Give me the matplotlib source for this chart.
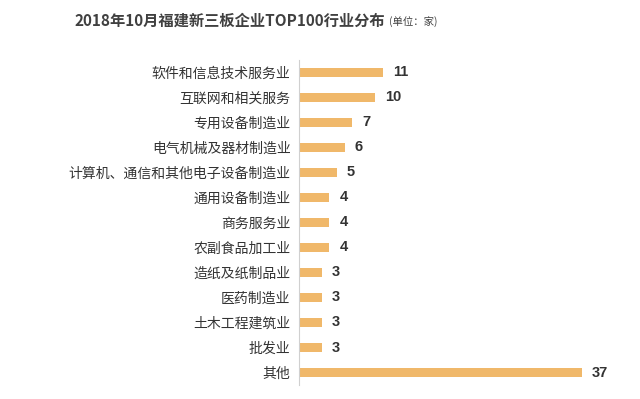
import matplotlib.pyplot as plt
import numpy as np

plt.rcParams['font.family'] = ['Noto Sans CJK SC', 'DejaVu Sans']

# Data
industries = ["软件和信息技术服务业", "互联网和相关服务", "专用设备制造业", "电气机械及器材制造业",
              "计算机、通信和其他电子设备制造业", "通用设备制造业", "商务服务业", "农副食品加工业",
              "造纸及纸制品业", "医药制造业", "土木工程建筑业", "批发业", "其他"]
counts = [11, 10, 7, 6, 5, 4, 4, 4, 3, 3, 3, 3, 37]

bar_color = "#F0B86A"
text_color = "#333333"

fig = plt.figure(figsize=(6.4, 3.99), dpi=100)
ax = fig.add_axes([0.467, 0.035, 0.502, 0.815])

y_pos = np.arange(len(industries))
ax.barh(y_pos, counts, height=0.34, color=bar_color)

for y, v in zip(y_pos, counts):
    ax.text(v + 1.3, y, str(v), va="center", ha="left", fontsize=10.5,
            fontweight="bold", color=text_color, family="Liberation Sans")

ax.set_yticks(y_pos)
ax.set_yticklabels(industries, fontsize=10, color=text_color)
ax.tick_params(axis="y", length=0, pad=6)
ax.set_xticks([])
ax.set_xlim(0, 42)
ax.set_ylim(len(industries) - 0.5, -0.5)

for side in ["top", "right", "bottom"]:
    ax.spines[side].set_visible(False)
ax.spines["left"].set_color("#d0d0d0")
ax.spines["left"].set_linewidth(0.8)

# Title
fig.text(0.116, 0.948, "2018年10月福建新三板企业TOP100行业分布", fontsize=11,
         fontweight="bold", color="#404040", va="center", ha="left")
fig.text(0.608, 0.945, "(单位：家)", fontsize=7.5, color="#404040", va="center", ha="left")

plt.savefig("out.png", dpi=100)
